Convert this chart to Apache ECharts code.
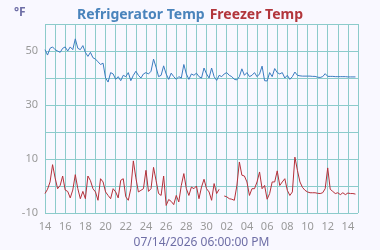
<!DOCTYPE html>
<html>
<head>
<meta charset="utf-8">
<script src="https://cdn.jsdelivr.net/npm/echarts@6/dist/echarts.min.js"></script>
<style>
  html, body { margin: 0; padding: 0; background: #f9f8ff; }
  #chart { width: 380px; height: 250px; }
</style>
</head>
<body>
<div id="chart"></div>
<script>
// samples every 6 hours starting 06/14/2026 00:00
const startDate = new Date(2026, 5, 14);
const stepHours = 6;
const xLabel = '07/14/2026 06:00:00 PM';
const yTicks = [-10, 10, 30, 50];

const fridge = [
  50.5, 48.5, 51, 51.5,   50.5, 50, 49.5, 51,     51.5, 50, 51.5, 50.5,   54.5, 51, 50.5, 52,
  49.5, 48, 49.5, 47.5,   47, 46, 45, 45.5,       40, 38.5, 42, 41.5,     39.5, 40.5, 39, 41,
  40.5, 42, 39, 41,       42.5, 41, 40, 41.5,     42, 41.5, 42.5, 47,     44, 40.5, 41, 44.5,
  41.5, 39.5, 41.8, 40.5, 39.5, 40.5, 40, 45,     41.5, 39.5, 41.5, 41,   41.8, 40.5, 40, 43.7,
  41.5, 40, 43.7, 40.5,   39.1, 41, 40.5, 41.5,   42, 41, 40.5, 39.5,     39.3, 40.5, 43.4, 41,
  42, 40.5, 41, 42,       40.5, 41.5, 44.4, 39,   38.9, 42, 40.5, 43.5,   42, 41.5, 42, 40,
  41, 39.5, 40.5, 42.2,   41, 40.8, 40.7, 40.7,   40.7, 40.7, 40.6, 40.6, 40.3, 40.2, 40.5, 41.6,
  40.6, 40.6, 40.6, 40.5, 40.5, 40.5, 40.5, 40.5, 40.4, 40.4, 40.4, 40.4
];

const freezer = [
  -2.8, -1.2, 1.5, 7.9,   3.0, -1, 0.2, 3.7,      -1.5, -2, -4.4, -1.5,   4.2, -1, -4.7, -2,
  -4.7, 3.7, 2, -1,       -2.2, -5.3, 2.7, 1.5,   -2.2, -3.5, -4.7, -1,   -2.2, -4.4, 2.1, 2.7,
  -4, -5.3, -1, 9.3,      3, -2.2, -1.6, -1,      5.8, -2, -1, 6.9,       2, -2.8, -3.5, 3.7,
  -7.2, -5, -5.7, -6.9,   -3.5, -5.9, 0.2, 4.6,   -1, -3.5, -0.4, -1,     0, -4.7, -0.4, 2.5,
  -1, -2.2, -5.3, 0.9,    -2.8, -1.2, null, -3.7, -4, -4.7, -4.9, -5.3,   0, 8.9, 4, 3.7,
  1.5, -3.5, -1, -1,      1.5, 5.2, -1, 0.2,      -4.9, -2.8, 1.5, 1.5,   5.6, 0.2, 1.5, 2.7,
  -1.6, -3.5, -2.2, 10.7, 5.8, 1.5, -0.5, -1.6,   -2.2, -2.5, -2.5, -2.5, -2.7, -2.8, -2.5, -1,
  6.7, -1.2, -2, -2.8,    -2.5, -3.2, -2.5, -3.2, -2.6, -2.8, -2.8, -3
];

const toPairs = arr => arr.map((v, i) => [i * stepHours / 24, v]);

const gridColor = '#8ccbcb';
const labelColor = '#9a9a9a';
const font = 'Noto Sans';

const chart = echarts.init(document.getElementById('chart'));
chart.setOption({
  backgroundColor: '#f9f8ff',
  animation: false,
  title: [
    {
      text: '{a|Refrigerator Temp} {b|Freezer Temp}',
      left: 'center',
      top: 1,
      textStyle: {
        rich: {
          a: { color: '#4a84bc', fontSize: 14, fontWeight: 'bold', fontFamily: font },
          b: { color: '#b2363c', fontSize: 14, fontWeight: 'bold', fontFamily: font }
        }
      }
    },
    {
      text: '°F',
      left: 9,
      top: 2,
      textStyle: { color: '#6e6ea6', fontSize: 12, fontWeight: 'bold', fontFamily: font }
    }
  ],
  grid: { left: 45, right: 22, top: 24, bottom: 37, outerBoundsMode: 'none' },
  xAxis: {
    type: 'value',
    min: 0,
    max: 31,
    interval: 1,
    name: xLabel,
    nameLocation: 'middle',
    nameGap: 22,
    nameTextStyle: { color: '#6e6ea6', fontSize: 12, fontFamily: font },
    axisLine: { show: false },
    axisTick: { show: false },
    axisLabel: {
      color: labelColor,
      fontSize: 11,
      fontFamily: font,
      margin: 8,
      formatter: v => {
        if (v % 2 !== 0) return '';
        const d = new Date(startDate.getTime() + v * 86400000);
        return String(d.getDate()).padStart(2, '0');
      }
    },
    splitLine: { show: true, lineStyle: { color: gridColor, width: 1 } }
  },
  yAxis: {
    type: 'value',
    min: -10,
    max: 60,
    interval: 10,
    axisLine: { show: false },
    axisTick: { show: false },
    axisLabel: {
      color: labelColor,
      fontSize: 11,
      fontFamily: font,
      margin: 7,
      formatter: v => (yTicks.includes(v) ? String(v) : '')
    },
    splitLine: { show: true, lineStyle: { color: gridColor, width: 1 } }
  },
  series: [
    {
      name: 'Refrigerator Temp',
      type: 'line',
      data: toPairs(fridge),
      showSymbol: false,
      lineStyle: { color: '#3b7cc0', width: 1 }
    },
    {
      name: 'Freezer Temp',
      type: 'line',
      data: toPairs(freezer),
      showSymbol: false,
      connectNulls: false,
      lineStyle: { color: '#b5303a', width: 1 }
    }
  ]
});
</script>
</body>
</html>
